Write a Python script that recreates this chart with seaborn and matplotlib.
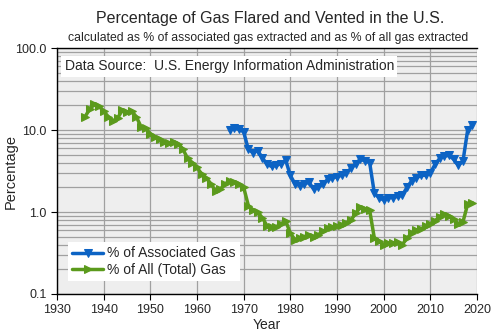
import matplotlib
matplotlib.use("Agg")
import matplotlib.pyplot as plt
import seaborn as sns
import pandas as pd
import numpy as np
from matplotlib.ticker import LogLocator, NullFormatter

years_total = list(range(1936, 2020))
pct_total = [14.5, 18, 21, 19.5, 17, 14.5, 13, 14, 17.5, 16.5, 17, 14.5, 11, 10.5,
             9, 8.2, 7.8, 7.2, 7.0, 7.1, 6.8, 5.8, 4.5, 4.0,
             3.5, 2.9, 2.6, 2.2, 1.8, 1.9, 2.2, 2.4, 2.35, 2.2,
             2.0, 1.2, 1.05, 1.0, 0.85, 0.68, 0.65, 0.66, 0.72, 0.78,
             0.55, 0.46, 0.48, 0.50, 0.53, 0.50, 0.53, 0.58, 0.63, 0.66,
             0.68, 0.70, 0.74, 0.80, 0.96, 1.15, 1.10, 1.05, 0.48, 0.44,
             0.40, 0.42, 0.42, 0.43, 0.40, 0.48, 0.55, 0.60, 0.62, 0.68,
             0.72, 0.78, 0.88, 0.95, 0.90, 0.82, 0.72, 0.76, 1.25, 1.30]

years_assoc = list(range(1967, 2020))
pct_assoc = [10.0, 10.5, 10.2,
             9.5, 5.8, 5.3, 5.6, 4.6, 3.8, 3.6, 3.7, 3.9, 4.3,
             2.8, 2.2, 2.1, 2.2, 2.3, 1.9, 2.0, 2.2, 2.5, 2.6,
             2.7, 2.8, 3.0, 3.4, 3.9, 4.4, 4.2, 4.0, 1.7, 1.5,
             1.4, 1.5, 1.5, 1.55, 1.6, 2.0, 2.4, 2.6, 2.8, 2.8,
             3.0, 3.8, 4.5, 4.8, 4.9, 4.4, 3.7, 4.2, 10.0, 11.5]

x_ticks = list(range(1930, 2021, 10))
y_ticks = [0.1, 1.0, 10.0, 100.0]
y_tick_labels = ["0.1", "1.0", "10.0", "100.0"]

sns.set_style("white")
plt.rcParams['font.family'] = ['Liberation Sans', 'DejaVu Sans']

fig = plt.figure(figsize=(5.0, 3.36), dpi=100)
ax = fig.add_axes([0.114, 0.125, 0.840, 0.732])
ax.set_facecolor('#eeeeee')

blue = '#0c63c4'
green = '#5b9a1c'

df_a = pd.DataFrame({"Year": years_assoc, "Pct": pct_assoc})
df_t = pd.DataFrame({"Year": years_total, "Pct": pct_total})

sns.lineplot(data=df_a, x="Year", y="Pct", ax=ax, color=blue, lw=2.5,
             marker='v', markersize=6, markeredgecolor=blue, label='% of Associated Gas')
sns.lineplot(data=df_t, x="Year", y="Pct", ax=ax, color=green, lw=2.5,
             marker='>', markersize=6, markeredgecolor=green, label='% of All (Total) Gas')

ax.set_yscale('log')
ax.set_xlim(1930, 2020)
ax.set_ylim(0.1, 100)
ax.set_xticks(x_ticks)
ax.set_yticks(y_ticks)
ax.set_yticklabels(y_tick_labels)
ax.yaxis.set_minor_locator(LogLocator(base=10, subs=np.arange(2, 10)))
ax.yaxis.set_minor_formatter(NullFormatter())
ax.grid(True, which='major', axis='both', color='#a0a0a0', lw=0.9)
ax.grid(True, which='minor', axis='y', color='#a0a0a0', lw=0.9)
ax.set_axisbelow(True)
ax.tick_params(axis='both', which='major', length=4, width=0.8, color='black',
               labelsize=9, direction='out', left=True, bottom=True)
ax.tick_params(axis='y', which='minor', length=0)
for s in ['left', 'bottom', 'top']:
    ax.spines[s].set_color('black')
    ax.spines[s].set_linewidth(1.0)
ax.spines['right'].set_visible(False)

ax.set_xlabel('Year', fontsize=10, labelpad=1)
ax.set_ylabel('Percentage', fontsize=10.5)
ax.yaxis.set_label_coords(-0.093, 0.5)

fig.text(0.54, 0.945, 'Percentage of Gas Flared and Vented in the U.S.',
         ha='center', va='center', fontsize=11.5)
fig.text(0.536, 0.888, 'calculated as % of associated gas extracted and as % of all gas extracted',
         ha='center', va='center', fontsize=8.8)

ax.text(0.018, 0.955, 'Data Source:  U.S. Energy Information Administration',
        transform=ax.transAxes, ha='left', va='top', fontsize=10,
        bbox=dict(facecolor='white', edgecolor='none', pad=2.5))

leg = ax.legend(loc='lower left', bbox_to_anchor=(0.02, 0.04), fontsize=10,
                frameon=True, fancybox=False, framealpha=1, edgecolor='none',
                handlelength=2.2, handletextpad=0.3, borderpad=0.3, labelspacing=0.2,
                borderaxespad=0.2)
leg.get_frame().set_facecolor('white')

fig.savefig('out.png', dpi=100)
